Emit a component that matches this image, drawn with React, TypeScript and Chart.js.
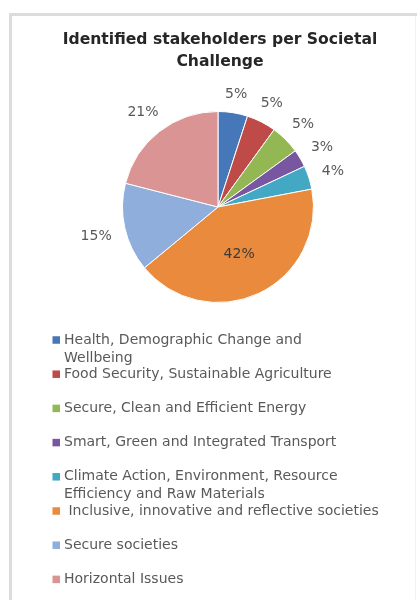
import React, { useEffect, useRef } from 'react';
import { Chart, registerables } from 'chart.js';

Chart.register(...registerables);

const titleLines = ['Identified stakeholders per Societal', 'Challenge'];
const categories: string[][] = [
  ['Health, Demographic Change and', 'Wellbeing'],
  ['Food Security, Sustainable Agriculture'],
  ['Secure, Clean and Efficient Energy'],
  ['Smart, Green and Integrated Transport'],
  ['Climate Action, Environment, Resource', 'Efficiency and Raw Materials'],
  [' Inclusive, innovative and reflective societies'],
  ['Secure societies'],
  ['Horizontal Issues'],
];
const shares = [5, 5, 5, 3, 4, 42, 15, 21];
const shareLabels = ['5%', '5%', '5%', '3%', '4%', '42%', '15%', '21%'];
const colors = ['#4677B8', '#BE4B48', '#93B753', '#7856A0', '#43A8C3', '#E98A3D', '#8FAEDC', '#D99493'];

const FONT = '"DejaVu Sans", sans-serif';

const framePlugin = {
  id: 'frame',
  beforeDraw(chart: any) {
    const ctx = chart.ctx;
    ctx.save();
    ctx.fillStyle = '#FFFFFF';
    ctx.fillRect(0, 0, chart.width, chart.height);
    ctx.fillStyle = '#DCDCDC';
    ctx.fillRect(9, 13, 3, chart.height - 13);
    ctx.fillRect(9, 13, chart.width - 9, 3);
    ctx.fillStyle = '#F2F2F2';
    ctx.fillRect(chart.width - 2, 16, 1, chart.height - 16);
    ctx.restore();
  },
};

const titlePlugin = {
  id: 'customTitle',
  afterDraw(chart: any) {
    const ctx = chart.ctx;
    ctx.save();
    ctx.fillStyle = '#262626';
    ctx.font = `bold 15.6px ${FONT}`;
    ctx.textAlign = 'center';
    ctx.textBaseline = 'middle';
    titleLines.forEach((line, i) => ctx.fillText(line, 220, 40 + i * 22));
    ctx.restore();
  },
};

const sliceLabelPlugin = {
  id: 'sliceLabels',
  afterDatasetsDraw(chart: any) {
    const ctx = chart.ctx;
    const meta = chart.getDatasetMeta(0);
    const values = chart.data.datasets[0].data as number[];
    ctx.save();
    ctx.font = `14px ${FONT}`;
    ctx.textAlign = 'center';
    ctx.textBaseline = 'middle';
    meta.data.forEach((arc: any, i: number) => {
      const { x, y, startAngle, endAngle, outerRadius } = arc.getProps(
        ['x', 'y', 'startAngle', 'endAngle', 'outerRadius'],
        true
      );
      const mid = (startAngle + endAngle) / 2;
      const text = shareLabels[i];
      const w = ctx.measureText(text).width;
      const h = 11;
      let d: number;
      if (values[i] >= 30) {
        d = outerRadius * 0.52;
        ctx.fillStyle = '#3A3A3A';
      } else {
        d = outerRadius + 13 + Math.abs(Math.cos(mid)) * w / 2 + Math.abs(Math.sin(mid)) * h / 2;
        ctx.fillStyle = '#595959';
      }
      ctx.fillText(text, x + Math.cos(mid) * d, y + Math.sin(mid) * d + 2);
    });
    ctx.restore();
  },
};

const legendPlugin = {
  id: 'customLegend',
  afterDraw(chart: any) {
    const ctx = chart.ctx;
    const labels = chart.data.labels as string[][];
    const bg = chart.data.datasets[0].backgroundColor as string[];
    ctx.save();
    ctx.font = `14px ${FONT}`;
    ctx.textAlign = 'left';
    ctx.textBaseline = 'middle';
    labels.forEach((lines, i) => {
      const y = 340 + i * 34.2;
      ctx.fillStyle = bg[i];
      ctx.fillRect(52.5, y - 3.75, 7.5, 7.5);
      ctx.fillStyle = '#595959';
      lines.forEach((line, j) => ctx.fillText(line, 64, y + j * 18));
    });
    ctx.restore();
  },
};

export default function App() {
  const canvasRef = useRef<HTMLCanvasElement | null>(null);

  useEffect(() => {
    if (!canvasRef.current) return;
    const chart = new Chart(canvasRef.current, {
      type: 'pie',
      data: {
        labels: categories,
        datasets: [
          {
            data: shares,
            backgroundColor: colors,
            borderColor: '#FFFFFF',
            borderWidth: 1,
          },
        ],
      },
      options: {
        responsive: false,
        animation: false,
        layout: { padding: { left: 122, right: 103, top: 111, bottom: 297 } },
        plugins: {
          legend: { display: false },
          title: { display: false },
          tooltip: { enabled: false },
        },
      },
      plugins: [framePlugin, titlePlugin, sliceLabelPlugin, legendPlugin],
    });
    return () => chart.destroy();
  }, []);

  return (
    <div style={{ position: 'absolute', left: 0, top: 0, width: 417, height: 600 }}>
      <canvas ref={canvasRef} width={417} height={600} style={{ display: 'block' }} />
    </div>
  );
}
